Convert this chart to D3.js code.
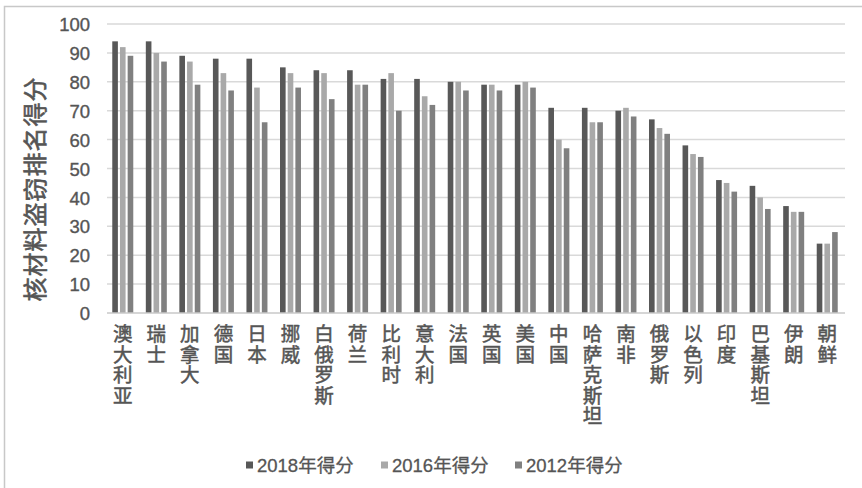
<!DOCTYPE html>
<html>
<head>
<meta charset="utf-8">
<script src="https://cdn.jsdelivr.net/npm/d3@7"></script>
<style>
  html, body { margin: 0; padding: 0; background: #fff; }
  svg { display: block; }
  text { font-family: "Liberation Sans", Arial, "Noto Sans CJK SC", sans-serif; }
</style>
</head>
<body>
<svg id="chart" width="862" height="488"></svg>
<script>
// Countries along the x axis
const countries = ["澳大利亚", "瑞士", "加拿大", "德国", "日本", "挪威", "白俄罗斯", "荷兰", "比利时", "意大利", "法国",
  "英国", "美国", "中国", "哈萨克斯坦", "南非", "俄罗斯", "以色列", "印度", "巴基斯坦", "伊朗", "朝鲜"];

// Scores per survey year
const score2018 = [94, 94, 89, 88, 88, 85, 84, 84, 81, 81, 80, 79, 79, 71, 71, 70, 67, 58, 46, 44, 37, 24];
const score2016 = [92, 90, 87, 83, 78, 83, 83, 79, 83, 75, 80, 79, 80, 60, 66, 71, 64, 55, 45, 40, 35, 24];
const score2012 = [89, 87, 79, 77, 66, 78, 74, 79, 70, 72, 77, 77, 78, 57, 66, 68, 62, 54, 42, 36, 35, 28];

const seriesNames = ["2018年得分", "2016年得分", "2012年得分"];
const yTicks = [0, 10, 20, 30, 40, 50, 60, 70, 80, 90, 100];
const yTitle = "核材料盗窃排名得分";

const seriesValues = [score2018, score2016, score2012];
const colors = ["#585858", "#a9a9a9", "#808080"];
const textColor = "#555555";

const svg = d3.select("#chart");
const plot = { left: 107, right: 845, top: 24, bottom: 313 };

// chart frame (top and left edges)
svg.append("path")
  .attr("d", `M4.5,${488} V6.5 H862`)
  .attr("fill", "none").attr("stroke", "#c8c8c8").attr("stroke-width", 1.5);

const x = d3.scaleBand().domain(countries).range([plot.left, plot.right]).paddingInner(0).paddingOuter(0);
const inner = d3.scaleBand().domain(d3.range(3)).range([0, 21]).paddingInner(0.27);
const groupOffset = (x.bandwidth() - 21) / 2 - 1;
const y = d3.scaleLinear().domain([0, 100]).range([plot.bottom, plot.top]);

// horizontal gridlines
svg.append("g")
  .selectAll("line")
  .data(yTicks.filter(d => d > 0))
  .join("line")
  .attr("x1", plot.left).attr("x2", plot.right)
  .attr("y1", d => y(d)).attr("y2", d => y(d))
  .attr("stroke", "#d9d9d9").attr("stroke-width", 1.5);

// y axis labels
const yAxis = d3.axisLeft(y).tickValues(yTicks).tickSize(0).tickPadding(0);
const gy = svg.append("g").attr("transform", `translate(${plot.left - 17},0)`).call(yAxis);
gy.select(".domain").remove();
gy.selectAll("text")
  .attr("font-size", 18.5).attr("fill", textColor)
  .style("font-family", "'Liberation Sans', Arial, sans-serif")
  .style("stroke", textColor).style("stroke-width", 0.35)
  .attr("dy", "0.36em");

// bars
const rows = [];
countries.forEach((c, i) => {
  seriesValues.forEach((vals, s) => rows.push({ country: c, s, v: vals[i] }));
});
svg.append("g")
  .selectAll("rect")
  .data(rows)
  .join("rect")
  .attr("x", d => x(d.country) + groupOffset + inner(d.s))
  .attr("y", d => y(d.v))
  .attr("width", inner.bandwidth())
  .attr("height", d => y(0) - y(d.v))
  .attr("fill", d => colors[d.s]);

// baseline
svg.append("line")
  .attr("x1", plot.left).attr("x2", plot.right)
  .attr("y1", y(0)).attr("y2", y(0))
  .attr("stroke", "#c8c8c8").attr("stroke-width", 1.5);

// x axis labels, written vertically
const xAxis = d3.axisBottom(x).tickSize(0).tickPadding(0);
const gx = svg.append("g").attr("transform", `translate(0,${plot.bottom + 11})`).call(xAxis);
gx.select(".domain").remove();
gx.selectAll("text")
  .attr("y", 0).attr("dy", 0).attr("x", -1)
  .attr("text-anchor", "start")
  .attr("font-size", 19.5)
  .attr("fill", textColor)
  .style("font-family", "'Noto Sans CJK SC', sans-serif")
  .style("stroke", textColor).style("stroke-width", 0.5)
  .style("writing-mode", "vertical-rl")
  .style("text-orientation", "upright")
  .style("letter-spacing", "1px");

// y axis title
svg.append("text")
  .attr("transform", `translate(44,189) rotate(-90)`)
  .attr("text-anchor", "middle")
  .attr("font-size", 24)
  .attr("fill", textColor)
  .style("font-family", "'Noto Sans CJK SC', sans-serif")
  .style("stroke", textColor).style("stroke-width", 0.6)
  .style("letter-spacing", "1px")
  .text(yTitle);

// legend
const legendX = [246, 381, 515];
const legend = svg.append("g");
seriesNames.forEach((name, i) => {
  legend.append("rect")
    .attr("x", legendX[i]).attr("y", 461.5).attr("width", 7).attr("height", 7)
    .attr("fill", colors[i]);
  legend.append("text")
    .attr("x", legendX[i] + 11).attr("y", 471.5)
    .attr("font-size", 18.5).attr("fill", textColor)
    .style("stroke", textColor).style("stroke-width", 0.3)
    .text(name);
});
</script>
</body>
</html>
